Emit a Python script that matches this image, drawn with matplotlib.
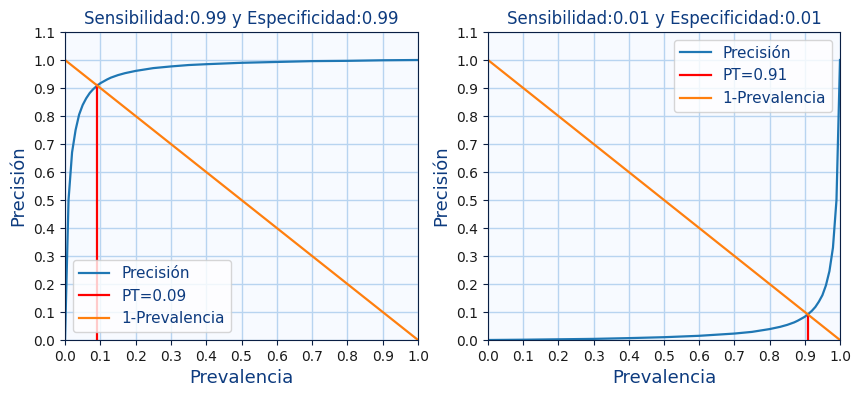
import numpy as np
import matplotlib
matplotlib.use("Agg")
import matplotlib.pyplot as plt

# valores
prev_a = [0, 0.01, 0.02, 0.03, 0.04, 0.05, 0.06, 0.07, 0.08, 0.09, 0.1, 0.11,
          0.12, 0.13, 0.15, 0.17, 0.2, 0.25, 0.3, 0.35, 0.4, 0.5, 0.6, 0.7, 0.8,
          0.9, 1.0]
prec_a = [0, 0.50, 0.67, 0.75, 0.805, 0.839, 0.863, 0.882, 0.896, 0.907, 0.917,
          0.924, 0.931, 0.937, 0.946, 0.953, 0.961, 0.971, 0.977, 0.982, 0.985,
          0.99, 0.993, 0.996, 0.997, 0.999, 1.0]
prev_b = [0, 0.1, 0.2, 0.3, 0.4, 0.5, 0.6, 0.65, 0.7, 0.75, 0.8, 0.83, 0.85, 0.87,
          0.88, 0.9, 0.91, 0.92, 0.93, 0.94, 0.95, 0.96, 0.97, 0.98, 0.99, 1.0]
prec_b = [0, 0.001, 0.0025, 0.004, 0.0067, 0.01, 0.015, 0.019, 0.023, 0.029,
          0.039, 0.047, 0.054, 0.063, 0.069, 0.083, 0.093, 0.104, 0.118, 0.137,
          0.16, 0.195, 0.246, 0.33, 0.5, 1.0]
sens = [0.99, 0.01]
espec = [0.99, 0.01]
pt = [0.09, 0.91]
pt_prec = [0.91, 0.09]
linea = [0, 1]  # 1-Prevalencia

TXT = "#0d3b7f"
DARK = "#0a1f44"

fig = plt.figure(figsize=(8.61, 3.97), dpi=100)
axes = [fig.add_axes([65/861, 57/397, 353/861, 308/397]),
        fig.add_axes([488/861, 57/397, 352/861, 308/397])]

datos = [(prev_a, prec_a), (prev_b, prec_b)]
for i, ax in enumerate(axes):
    x, y = datos[i]
    ax.set_facecolor("#f7faff")
    ax.grid(True, color="#b8d4f0", lw=1)
    ax.set_axisbelow(True)
    ax.plot(x, y, color="C0", lw=1.6, label="Precisión")
    ax.plot([pt[i], pt[i]], [0, pt_prec[i]], color="red", lw=1.6, label=f"PT={pt[i]:.2f}")
    ax.plot(linea, [1 - v for v in linea], color="C1", lw=1.6, label="1-Prevalencia")
    ax.set_xlim(0, 1)
    ax.set_ylim(0, 1.1)
    ax.set_xticks(np.arange(0, 1.01, 0.1))
    ax.set_yticks(np.arange(0, 1.11, 0.1))
    ax.set_xticklabels([f"{v:.1f}" for v in np.arange(0, 1.01, 0.1)])
    ax.set_yticklabels([f"{v:.1f}" for v in np.arange(0, 1.11, 0.1)])
    ax.tick_params(colors=DARK, labelsize=10, labelcolor="#1a1a1a")
    for s in ax.spines.values():
        s.set_color(DARK)
    ax.set_xlabel("Prevalencia", fontsize=13, color=TXT)
    ax.set_ylabel("Precisión", fontsize=13, color=TXT)
    ax.set_title(f"Sensibilidad:{sens[i]} y Especificidad:{espec[i]}", fontsize=12, color=TXT)
    leg = ax.legend(loc="lower left" if i == 0 else "upper right", fontsize=11)
    for t in leg.get_texts():
        t.set_color(TXT)

fig.savefig("out.png", dpi=100)
